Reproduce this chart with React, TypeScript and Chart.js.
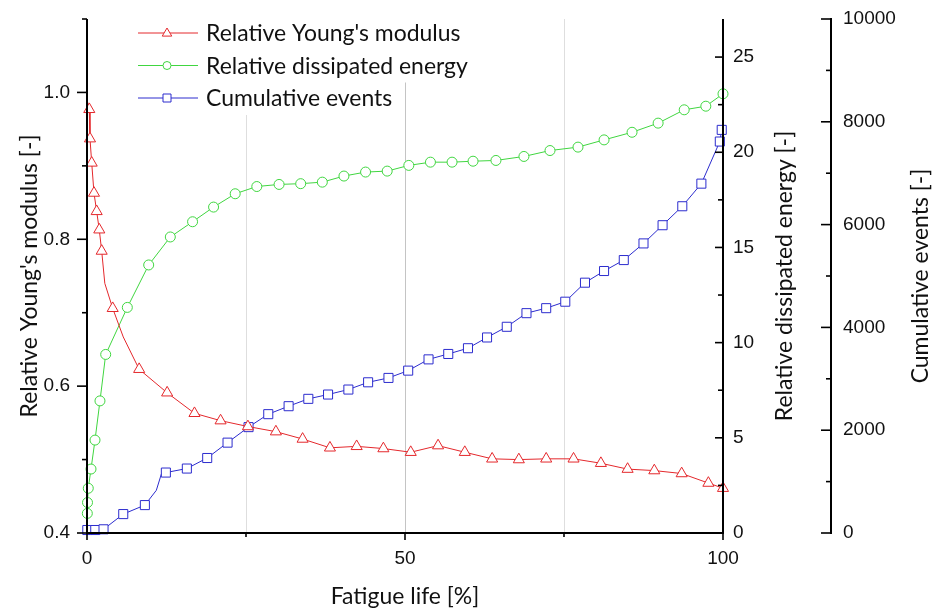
import React, { useEffect, useRef } from 'react';
import { Chart, registerables } from 'chart.js';
Chart.register(...registerables);

// ---------- data ----------
const redX = [0, 0.36, 0.47, 0.74, 1.1, 1.52, 1.93, 2.31, 2.8, 4.04, 5.7, 8.2, 12.6, 16.9, 21.0, 25.3, 29.7, 33.9, 38.2, 42.4, 46.6, 50.9, 55.2, 59.4, 63.7, 67.9, 72.2, 76.5, 80.8, 85.0, 89.2, 93.5, 97.7, 100];
const redY = [0.99, 0.977, 0.937, 0.904, 0.863, 0.838, 0.813, 0.784, 0.74, 0.706, 0.667, 0.623, 0.591, 0.563, 0.553, 0.545, 0.538, 0.528, 0.516, 0.518, 0.515, 0.51, 0.519, 0.51, 0.501, 0.5, 0.501, 0.501, 0.495, 0.487, 0.485, 0.481, 0.468, 0.461];
const redMarked = [0, 1, 1, 1, 1, 1, 1, 1, 0, 1, 0, 1, 1, 1, 1, 1, 1, 1, 1, 1, 1, 1, 1, 1, 1, 1, 1, 1, 1, 1, 1, 1, 1, 1];

const greenX = [0.05, 0.08, 0.2, 0.63, 1.26, 2.04, 2.94, 6.34, 9.7, 13.1, 16.6, 19.9, 23.3, 26.7, 30.2, 33.6, 37.0, 40.4, 43.8, 47.2, 50.6, 54.0, 57.4, 60.7, 64.3, 68.7, 72.8, 77.2, 81.3, 85.7, 89.8, 93.9, 97.3, 100];
const greenY = [1.03, 1.6, 2.35, 3.36, 4.88, 6.94, 9.38, 11.85, 14.08, 15.55, 16.35, 17.12, 17.82, 18.2, 18.31, 18.35, 18.43, 18.75, 18.96, 19.01, 19.31, 19.48, 19.48, 19.53, 19.57, 19.78, 20.09, 20.27, 20.65, 21.05, 21.53, 22.23, 22.42, 23.07];

const blueX = [0.05, 1.3, 2.6, 5.7, 9.1, 10.9, 11.7, 12.4, 15.7, 18.9, 22.1, 25.4, 28.5, 31.7, 34.8, 37.9, 41.1, 44.2, 47.4, 50.5, 53.7, 56.8, 59.9, 62.9, 66.0, 69.1, 72.2, 75.2, 78.3, 81.3, 84.4, 87.5, 90.5, 93.6, 96.6, 99.5, 99.8];
const blueY = [58, 58, 72, 368, 543, 830, 1150, 1176, 1254, 1459, 1758, 2060, 2312, 2467, 2610, 2694, 2791, 2932, 3017, 3159, 3378, 3483, 3595, 3804, 4012, 4277, 4374, 4500, 4870, 5097, 5310, 5634, 5988, 6357, 6797, 7616, 7843];
const blueMarked = [1, 1, 1, 1, 1, 0, 0, 1, 1, 1, 1, 1, 1, 1, 1, 1, 1, 1, 1, 1, 1, 1, 1, 1, 1, 1, 1, 1, 1, 1, 1, 1, 1, 1, 1, 1, 1];

const seriesNames = ["Relative Young's modulus", 'Relative dissipated energy', 'Cumulative events'];
const xTitle = 'Fatigue life [%]';
const yTitle = "Relative Young's modulus [-]";
const y1Title = 'Relative dissipated energy [-]';
const y2Title = 'Cumulative events [-]';

const xMajor = [0, 50, 100];
const xMinor = [25, 75];
const xGrid = [25, 50, 75];
const yMajor = [0.4, 0.6, 0.8, 1.0];
const yMinor = [0.5, 0.7, 0.9, 1.1];
const y1Major = [0, 5, 10, 15, 20, 25];
const y1Minor = [2.5, 7.5, 12.5, 17.5, 22.5];
const y2Major = [0, 2000, 4000, 6000, 8000, 10000];
const y2Minor = [1000, 3000, 5000, 7000, 9000];

// ---------- styles ----------
const RED = 'rgb(228,40,44)';
const GREEN = 'rgb(64,214,64)';
const BLUE = 'rgb(44,44,206)';
const TICK_FONT = '"Liberation Sans", Arial, sans-serif';
const TEXT_FONT = 'Lato, "Noto Sans", sans-serif';

function drawMarker(ctx: CanvasRenderingContext2D, kind: string, x: number, y: number, r: number, color: string) {
  ctx.save();
  ctx.beginPath();
  if (kind === 'triangle') {
    ctx.moveTo(x, y - r);
    ctx.lineTo(x + r * 0.95, y + r * 0.62);
    ctx.lineTo(x - r * 0.95, y + r * 0.62);
    ctx.closePath();
  } else if (kind === 'circle') {
    ctx.arc(x, y, r, 0, Math.PI * 2);
  } else {
    ctx.rect(x - r, y - r, 2 * r, 2 * r);
  }
  ctx.fillStyle = '#fff';
  ctx.fill();
  ctx.strokeStyle = color;
  ctx.lineWidth = 1;
  ctx.stroke();
  ctx.restore();
}

const decorPlugin = {
  id: 'decor',
  beforeDatasetsDraw(chart: any) {
    const ctx = chart.ctx;
    const { top, bottom } = chart.chartArea;
    const xs = chart.scales.x;
    ctx.save();
    xGrid.forEach((v) => {
      const px = Math.round(xs.getPixelForValue(v)) + 0.5;
      ctx.strokeStyle = v === 50 ? '#c4c4c4' : '#dedede';
      ctx.lineWidth = 1;
      ctx.beginPath();
      ctx.moveTo(px, top);
      ctx.lineTo(px, bottom);
      ctx.stroke();
    });
    ctx.restore();
  },
  afterDatasetsDraw(chart: any) {
    const ctx = chart.ctx;
    const { left, right, top, bottom } = chart.chartArea;
    const xs = chart.scales.x;
    const ys = chart.scales.y;
    const y1 = chart.scales.y1;
    const y2 = chart.scales.y2;
    ctx.save();
    ctx.strokeStyle = '#000';
    ctx.lineWidth = 2;
    const line = (x1: number, yA: number, x2: number, yB: number) => {
      ctx.beginPath();
      ctx.moveTo(x1, yA);
      ctx.lineTo(x2, yB);
      ctx.stroke();
    };
    // axis lines
    line(left, top, left, bottom + 1);
    line(left - 1, bottom, right + 1, bottom);
    line(right, top, right, bottom + 1);
    const y2x = y2.left;
    line(y2x, y2.getPixelForValue(10000) - 1, y2x, y2.getPixelForValue(0) + 1);
    // ticks
    ctx.lineWidth = 1.6;
    yMajor.forEach((v) => { const p = ys.getPixelForValue(v); line(left - 10, p, left, p); });
    yMinor.forEach((v) => { const p = ys.getPixelForValue(v); line(left - 5, p, left, p); });
    xMajor.forEach((v) => { const p = xs.getPixelForValue(v); line(p, bottom, p, bottom + 7); });
    xMinor.forEach((v) => { const p = xs.getPixelForValue(v); line(p, bottom, p, bottom + 4); });
    y1Major.forEach((v) => { const p = y1.getPixelForValue(v); line(right - 8, p, right, p); });
    y1Minor.forEach((v) => { const p = y1.getPixelForValue(v); line(right - 5, p, right, p); });
    y2Major.forEach((v) => { const p = y2.getPixelForValue(v); line(y2x - 10, p, y2x, p); });
    y2Minor.forEach((v) => { const p = y2.getPixelForValue(v); line(y2x - 5, p, y2x, p); });

    // text size fitted to the reference title length
    ctx.font = `100px ${TEXT_FONT}`;
    const ref = ctx.measureText(yTitle).width;
    const size = (100 * 283) / ref;
    ctx.font = `${size}px ${TEXT_FONT}`;
    ctx.fillStyle = '#111';
    ctx.textAlign = 'center';
    ctx.textBaseline = 'middle';
    const midY = (top + bottom) / 2;
    ctx.fillText(xTitle, (left + right) / 2, 597);
    const vtext = (t: string, x: number) => {
      ctx.save();
      ctx.translate(x, midY);
      ctx.rotate(-Math.PI / 2);
      ctx.fillText(t, 0, 0);
      ctx.restore();
    };
    vtext(yTitle, 30);
    vtext(y1Title, 785);
    vtext(y2Title, 921);

    // legend
    const kinds = ['triangle', 'circle', 'rect'];
    const colors = [RED, GREEN, BLUE];
    const rowY = [33, 65.5, 98];
    ctx.textAlign = 'left';
    seriesNames.forEach((name, i) => {
      const w = ctx.measureText(name).width;
      ctx.fillStyle = '#fff';
      ctx.fillRect(134, rowY[i] - 16, 206 - 134 + w + 4, 33);
    });
    seriesNames.forEach((name, i) => {
      const yy = rowY[i];
      ctx.strokeStyle = colors[i];
      ctx.lineWidth = 1;
      line(138, yy, 198, yy);
      drawMarker(ctx, kinds[i], 167, yy, kinds[i] === 'triangle' ? 5 : 4, colors[i]);
      ctx.fillStyle = '#111';
      ctx.fillText(name, 206, yy + 1);
    });
    ctx.restore();
  },
};

function pts(xs: number[], ys: number[]) {
  return xs.map((x, i) => ({ x, y: ys[i] }));
}

function noPad(s: any) {
  s.paddingTop = 0;
  s.paddingBottom = 0;
  s.paddingLeft = 0;
  s.paddingRight = 0;
}

export default function App() {
  const ref = useRef<HTMLCanvasElement | null>(null);
  useEffect(() => {
    if (!ref.current) return;
    const tickFont = { family: TICK_FONT, size: 19 };
    const chart = new Chart(ref.current, {
      type: 'line',
      data: {
        datasets: [
          {
            label: seriesNames[0],
            data: pts(redX, redY),
            yAxisID: 'y',
            borderColor: RED,
            borderWidth: 1,
            pointStyle: 'triangle',
            pointRadius: (c: any) => (redMarked[c.dataIndex] ? 6.4 : 0),
            pointBackgroundColor: '#fff',
            pointBorderColor: RED,
            pointBorderWidth: 1,
            clip: false,
          } as any,
          {
            label: seriesNames[1],
            data: pts(greenX, greenY),
            yAxisID: 'y1',
            borderColor: GREEN,
            borderWidth: 1,
            pointStyle: 'circle',
            pointRadius: 5,
            pointBackgroundColor: '#fff',
            pointBorderColor: GREEN,
            pointBorderWidth: 1,
            clip: false,
          } as any,
          {
            label: seriesNames[2],
            data: pts(blueX, blueY),
            yAxisID: 'y2',
            borderColor: BLUE,
            borderWidth: 1,
            pointStyle: 'rect',
            pointRadius: (c: any) => (blueMarked[c.dataIndex] ? 6.4 : 0),
            pointBackgroundColor: '#fff',
            pointBorderColor: BLUE,
            pointBorderWidth: 1,
            clip: false,
          } as any,
        ],
      },
      options: {
        responsive: false,
        animation: false,
        events: [],
        layout: { padding: { top: 19, left: 0, right: 0, bottom: 0 } },
        plugins: { legend: { display: false }, tooltip: { enabled: false } },
        scales: {
          x: {
            type: 'linear',
            position: 'bottom',
            min: 0,
            max: 100,
            afterBuildTicks: (s: any) => { s.ticks = xMajor.map((value) => ({ value })); },
            ticks: { font: tickFont, color: '#111', padding: 14, maxRotation: 0, autoSkip: false },
            grid: { display: false, drawTicks: false },
            border: { display: false },
            afterFit: (s: any) => { s.height = 77; noPad(s); },
          },
          y: {
            type: 'linear',
            position: 'left',
            min: 0.4,
            max: 1.1,
            afterBuildTicks: (s: any) => { s.ticks = yMajor.map((value) => ({ value })); },
            ticks: { font: tickFont, color: '#111', padding: 17, callback: (v: any) => Number(v).toFixed(1) },
            grid: { display: false, drawTicks: false },
            border: { display: false },
            afterFit: (s: any) => { s.width = 87; noPad(s); },
          },
          y1: {
            type: 'linear',
            position: 'right',
            weight: 1,
            min: 0,
            max: 27,
            afterBuildTicks: (s: any) => { s.ticks = y1Major.map((value) => ({ value })); },
            ticks: { font: tickFont, color: '#111', padding: 10 },
            grid: { display: false, drawTicks: false },
            border: { display: false },
            afterFit: (s: any) => { s.width = 108; noPad(s); },
          },
          y2: {
            type: 'linear',
            position: 'right',
            weight: 2,
            min: 0,
            max: 10000,
            afterBuildTicks: (s: any) => { s.ticks = y2Major.map((value) => ({ value })); },
            ticks: { font: tickFont, color: '#111', padding: 12, callback: (v: any) => String(v) },
            grid: { display: false, drawTicks: false },
            border: { display: false },
            afterFit: (s: any) => { s.width = 102; noPad(s); },
          },
        } as any,
      },
      plugins: [decorPlugin],
    });
    return () => chart.destroy();
  }, []);
  return (
    <div style={{ position: 'absolute', left: 0, top: 0, width: 933, height: 610, background: '#fff' }}>
      <canvas ref={ref} width={933} height={610} />
    </div>
  );
}
